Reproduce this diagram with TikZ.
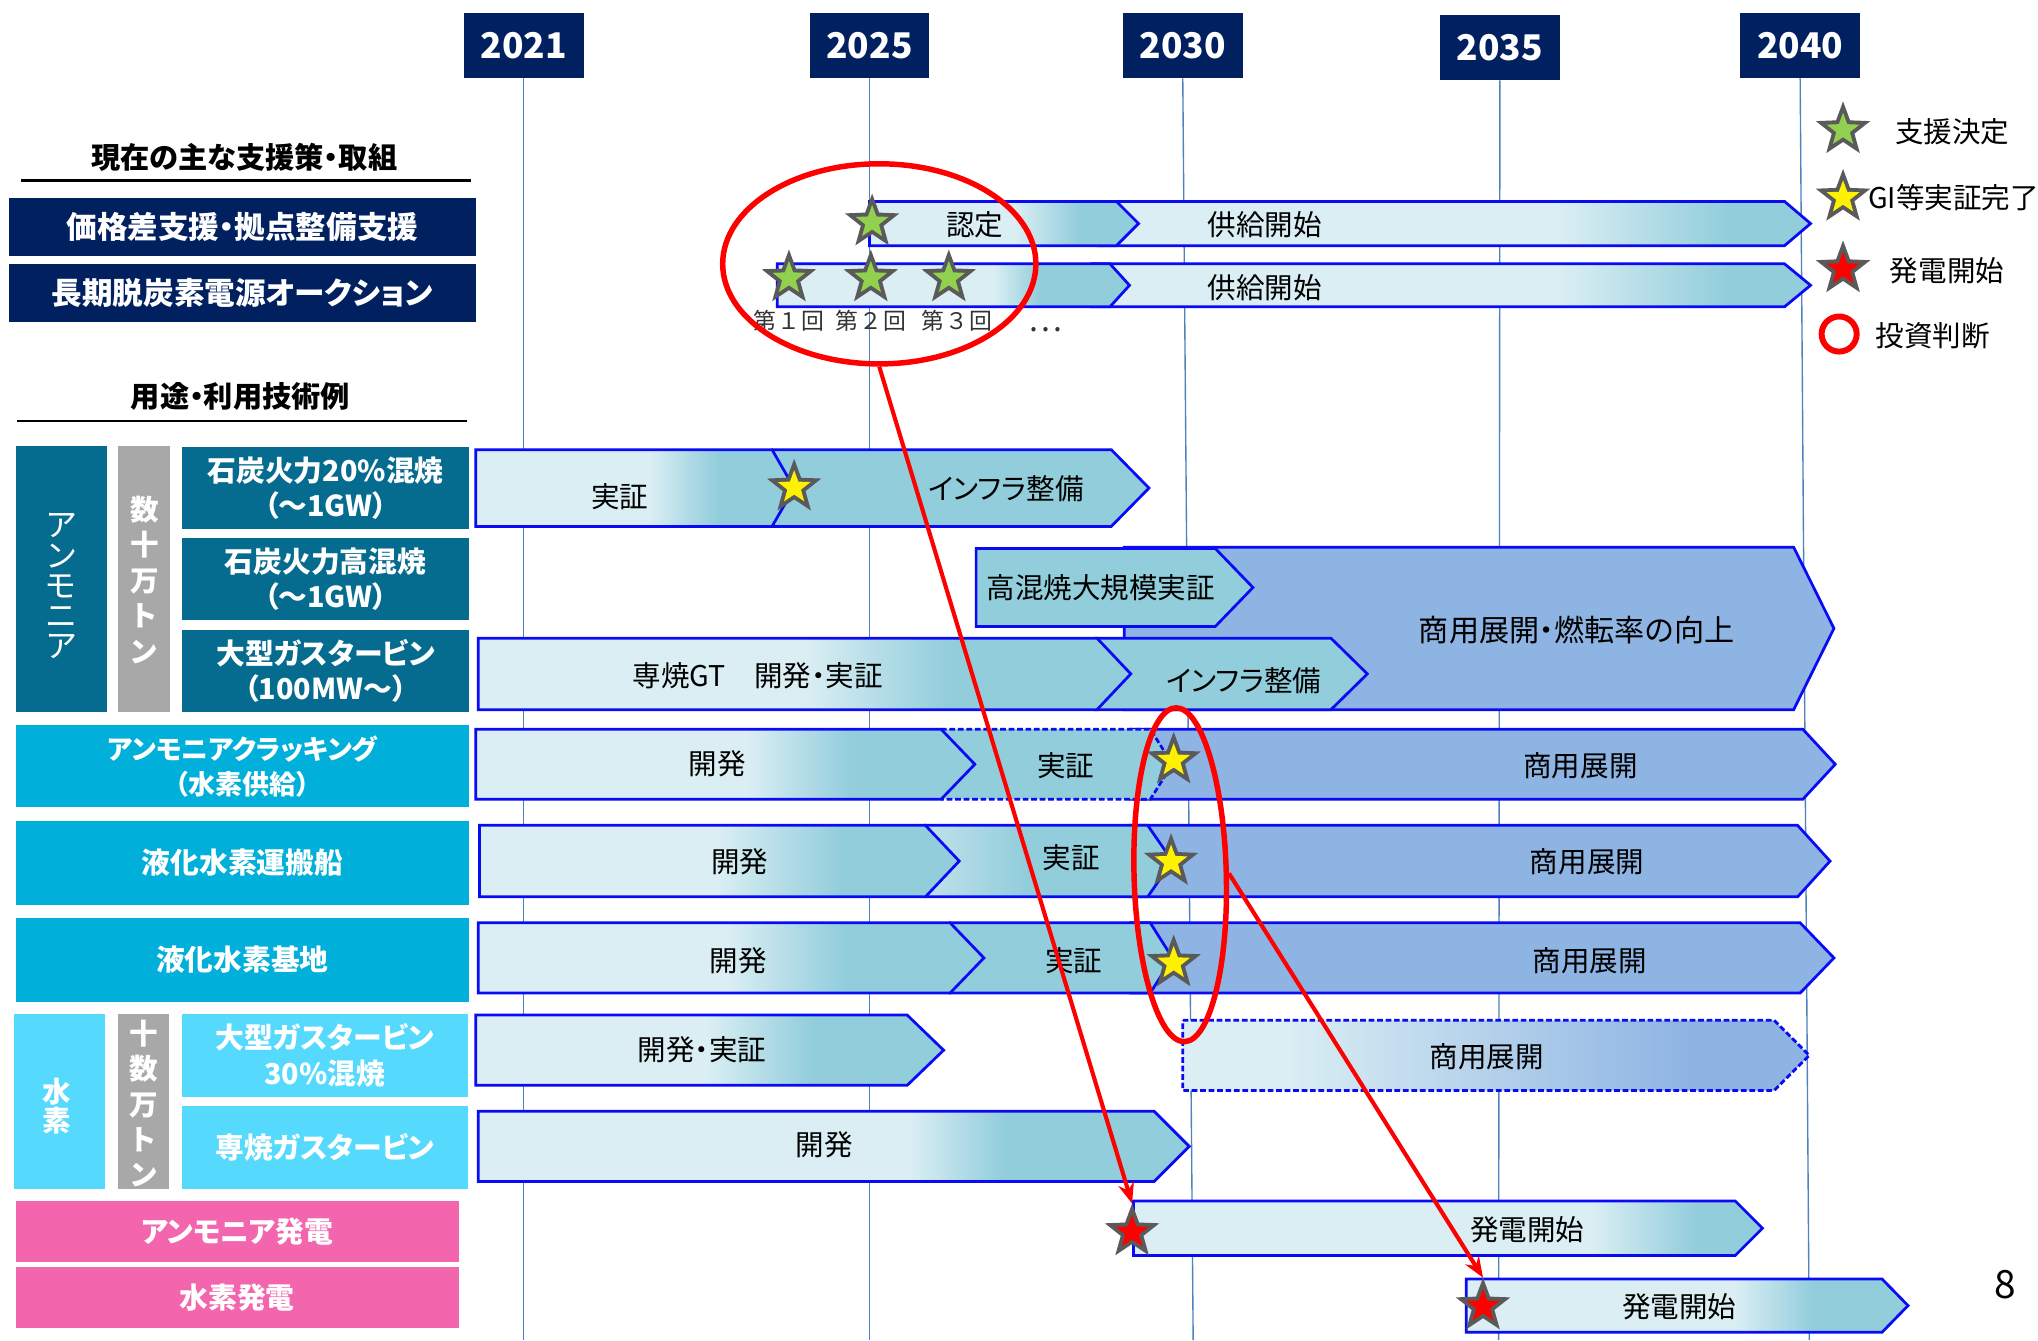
\documentclass[tikz,border=0pt]{standalone}
\usepackage{fontspec}
\setmainfont{Noto Sans CJK JP}[RawFeature=+palt]
\usetikzlibrary{shapes.geometric,arrows.meta}
\definecolor{navy}{HTML}{002060}
\definecolor{tealA}{HTML}{056C8F}
\definecolor{grayB}{HTML}{A9A8A9}
\definecolor{cyanC}{HTML}{00AFDA}
\definecolor{cyanL}{HTML}{55DAFE}
\definecolor{pinkP}{HTML}{F366AD}
\definecolor{barL}{HTML}{DAEEF3}
\definecolor{barM}{HTML}{92CDDC}
\definecolor{barC}{HTML}{8EB4E3}
\definecolor{barB}{HTML}{0A0AF5}
\definecolor{gridL}{HTML}{4F81BD}
\definecolor{starGr}{HTML}{5A5A5A}
\definecolor{starGreen}{HTML}{92D050}
\newcommand\gbar[9]{%
 \begin{scope}
  \clip (#1,#4) -- (#2,#4) -- (#3,{(#4+#5)/2}) -- (#2,#5) -- (#1,#5) -- cycle;
  \fill[#8] (#1-1,#4-1) rectangle (#6+0.5,#5+1);
  \shade[left color=#8,right color=#9] (#6,#4-1) rectangle (#7,#5+1);
  \fill[#9] (#7-0.5,#4-1) rectangle (#3+1,#5+1);
 \end{scope}}
\newcommand\bord[6]{\draw[#6] (#1,#4) -- (#2,#4) -- (#3,{(#4+#5)/2}) -- (#2,#5) -- (#1,#5) -- cycle;}
\newcommand\sbar[6]{\filldraw[barline,fill=#6] (#1,#4) -- (#2,#4) -- (#3,{(#4+#5)/2}) -- (#2,#5) -- (#1,#5) -- cycle;}
\newcommand\mstar[4]{%
 \node[starout] (#1) at (#2,#3) {};
 \node[starin,fill=#4] (#1-in) at (#2,#3) {};}
\begin{document}
\begin{tikzpicture}[x=0.02cm,y=-0.02cm,
  barline/.style={draw=barB,line width=1.2pt,line join=miter},
  gridline/.style={draw=gridL,line width=0.6pt},
  yr/.style={fill=navy,text=white,font=\bfseries\fontsize{15.5}{18}\selectfont,minimum width=1.84cm,minimum height=1.0cm,inner sep=0pt},
  box/.style 2 args={minimum width=#1*0.02cm,minimum height=#2*0.02cm,inner sep=0pt,outer sep=0pt},
  lt/.style={text=white,font=\bfseries\fontsize{12.6}{15.4}\selectfont,align=center},
  vt/.style={text=white,font=\bfseries\fontsize{12.5}{15.5}\selectfont,align=center,inner sep=0pt},
  bt/.style={text=black,font=\fontsize{12.5}{15}\selectfont,inner sep=0pt},
  hd/.style={text=black,font=\bfseries\fontsize{12.8}{15}\selectfont,inner sep=0pt},
  sl/.style={text=black!80,font=\fontsize{10}{12}\selectfont,inner sep=0pt},
  starout/.style={star,star points=5,star point ratio=2.4,fill=starGr,minimum size=0.88cm,inner sep=0pt,outer sep=0pt},
  starin/.style={star,star points=5,star point ratio=2.4,minimum size=0.53cm,inner sep=0pt},
  redl/.style={draw=red,line width=2.4pt},
  redarrow/.style={draw=red,line width=1.8pt,-{Stealth[length=9pt,width=7pt]}}
]
\fill[white] (0,0) rectangle (1568,1031);
\useasboundingbox (0,0) rectangle (1568,1031);

% year headers and grid lines
\node[yr] (y2021) at (403,35) {2021};
\node[yr] (y2025) at (669,35) {2025};
\node[yr] (y2030) at (910,35) {2030};
\node[yr] (y2035) at (1154,36.5) {2035};
\node[yr] (y2040) at (1385,35) {2040};
\coordinate (b2021) at (403,1031);
\coordinate (b2025) at (669,1031);
\coordinate (b2030) at (918,1031);
\coordinate (b2035) at (1153,1031);
\coordinate (b2040) at (1392,1031);
\draw[gridline] (y2021.south) -- (b2021);
\draw[gridline] (y2025.south) -- (b2025);
\draw[gridline] (y2030.south) -- (b2030);
\draw[gridline] (y2035.south) -- (b2035);
\draw[gridline] (y2040.south) -- (b2040);

% left headers
\node[hd] (hdA) at (188,121) {現在の主な支援策・取組};
\coordinate (ulA1) at (16,139); \coordinate (ulA2) at (362,139);
\draw[line width=1.2pt] (ulA1) -- (ulA2);
\node[box={359}{45},fill=navy,lt,font=\bfseries\fontsize{13.4}{15}\selectfont] (pol1) at (186.5,174.5) {価格差支援・拠点整備支援};
\node[box={359}{45},fill=navy,lt,font=\bfseries\fontsize{13.4}{15}\selectfont] (pol2) at (186.5,225.5) {長期脱炭素電源オークション};
\node[hd] (hdB) at (185,305) {用途・利用技術例};
\coordinate (ulB1) at (13,324); \coordinate (ulB2) at (359,324);
\draw[line width=1.2pt] (ulB1) -- (ulB2);

% left category boxes
\node[box={70}{205},fill=tealA] (amm) at (47,445.5) {};
\node[vt,font=\fontsize{14}{13.2}\selectfont] (ammT) at (47,451) {ア\\ン\\モ\\ニ\\ア};
\node[box={40}{205},fill=grayB] (gr1) at (111,445.5) {};
\node[vt] (gr1T) at (111,446) {数\\十\\万\\ト\\ン};
\node[box={221}{63},fill=tealA,lt] (l1) at (250.5,375.5) {石炭火力20\%混焼\\（～1GW）};
\node[box={221}{63},fill=tealA,lt] (l2) at (250.5,445.5) {石炭火力高混焼\\（～1GW）};
\node[box={221}{63},fill=tealA,lt] (l3) at (250.5,516) {大型ガスタービン\\（100MW～）};
\node[box={349}{63},fill=cyanC,lt,font=\bfseries\fontsize{11.8}{15.4}\selectfont] (l4) at (186.5,589.5) {アンモニアクラッキング\\（水素供給）};
\node[box={349}{64},fill=cyanC,lt] (l5) at (186.5,664) {液化水素運搬船};
\node[box={349}{65},fill=cyanC,lt] (l6) at (186.5,738.5) {液化水素基地};
\node[box={70}{135},fill=cyanL] (h2) at (46,847.5) {};
\node[vt,font=\bfseries\fontsize{12.5}{12.5}\selectfont] (h2T) at (44,851) {水\\素};
\node[box={39}{135},fill=grayB] (gr2) at (110.5,847.5) {};
\node[vt] (gr2T) at (110.5,849) {十\\数\\万\\ト\\ン};
\node[box={220}{64},fill=cyanL,lt] (l7) at (250,812) {大型ガスタービン\\30\%混焼};
\node[box={220}{64},fill=cyanL,lt] (l8) at (250,883) {専焼ガスタービン};
\node[box={341}{47},fill=pinkP,lt] (l9) at (182.5,947.5) {アンモニア発電};
\node[box={341}{47},fill=pinkP,lt] (l10) at (182.5,998.5) {水素発電};

% ---- bars ----
% row 1
\gbar{845}{1373}{1393}{155}{189}{1200}{1330}{barL}{barM}\bord{845}{1373}{1393}{155}{189}{barline}
\gbar{669}{859}{876}{155}{189}{781}{830}{barL}{barM}\bord{669}{859}{876}{155}{189}{barline}
% row 2
\gbar{840}{1373}{1393}{203}{236}{1200}{1330}{barL}{barM}\bord{840}{1373}{1393}{203}{236}{barline}
\gbar{598}{854}{869}{203}{236}{765}{800}{barL}{barM}\bord{598}{854}{869}{203}{236}{barline}
% row 3
\sbar{595}{855}{884}{346}{405}{barM}
\gbar{366}{594}{611}{346}{405}{500}{552}{barL}{barM}\bord{366}{594}{611}{346}{405}{barline}
% rows 4-5
\sbar{865}{1380}{1411}{421}{546}{barC}
\sbar{751}{935}{964}{422}{482}{barM}
\sbar{843}{1024}{1052}{491}{546}{barM}
\gbar{368}{844}{870}{491}{546}{620}{730}{barL}{barM}\bord{368}{844}{870}{491}{546}{barline}
% row 6
\sbar{870}{1387}{1412}{561}{615}{barC}
\fill[barM] (724,561) -- (885,561) -- (902,588) -- (885,615) -- (724,615) -- cycle;
\draw[barline,dash pattern=on 2.5pt off 1.2pt] (724,561) -- (885,561) -- (902,588) -- (885,615) -- (724,615);
\gbar{366}{724}{750}{561}{615}{575}{655}{barL}{barM}\bord{366}{724}{750}{561}{615}{barline}
% row 7
\sbar{870}{1383}{1408}{635}{690}{barC}
\gbar{712}{883}{902}{635}{690}{715}{790}{barL!60!barM}{barM}\bord{712}{883}{902}{635}{690}{barline}
\gbar{369}{712}{738}{635}{690}{552}{648}{barL}{barM}\bord{369}{712}{738}{635}{690}{barline}
% row 8
\sbar{870}{1385}{1411}{710}{764}{barC}
\sbar{731}{885}{902}{710}{764}{barM}
\gbar{368}{731}{757}{710}{764}{560}{650}{barL}{barM}\bord{368}{731}{757}{710}{764}{barline}
% row 9
\gbar{366}{698}{726}{781}{835}{545}{625}{barL}{barM}\bord{366}{698}{726}{781}{835}{barline}
\gbar{910}{1365}{1392}{785}{839}{990}{1300}{barL}{barC}\bord{910}{1365}{1392}{785}{839}{barline,dash pattern=on 2.5pt off 1.2pt}
% row 10
\gbar{368}{888}{915}{855}{909}{700}{772}{barL}{barM}\bord{368}{888}{915}{855}{909}{barline}
% row 11
\gbar{872}{1335}{1356}{924}{966}{1225}{1305}{barL}{barM}\bord{872}{1335}{1356}{924}{966}{barline}
% row 12
\gbar{1128}{1448}{1468}{984}{1025}{1335}{1395}{barL}{barM}\bord{1128}{1448}{1468}{984}{1025}{barline}

% bar texts
\node[bt] (t1) at (750,173) {認定};
\node[bt] (t2) at (973,173) {供給開始};
\node[bt] (t3) at (973,221) {供給開始};
\node[bt] (t4) at (477,382) {実証};
\node[bt] (t5) at (774,376) {インフラ整備};
\node[bt] (t6) at (847,452) {高混焼大規模実証};
\node[bt,font=\fontsize{13.2}{15}\selectfont] (t7) at (1213,485) {商用展開・燃転率の向上};
\node[bt] (t8) at (583,520) {専焼GT　開発・実証};
\node[bt] (t9) at (957,524) {インフラ整備};
\node[bt] (t10) at (552,588) {開発};
\node[bt] (t11) at (820,589) {実証};
\node[bt] (t12) at (1216,589) {商用展開};
\node[bt] (t13) at (569,663) {開発};
\node[bt] (t14) at (824,660) {実証};
\node[bt] (t15) at (1221,663) {商用展開};
\node[bt] (t16) at (568,739) {開発};
\node[bt] (t17) at (826,739) {実証};
\node[bt] (t18) at (1223,739) {商用展開};
\node[bt] (t19) at (540,808) {開発・実証};
\node[bt] (t20) at (1144,813) {商用展開};
\node[bt] (t21) at (634,881) {開発};
\node[bt] (t22) at (1175,946) {発電開始};
\node[bt] (t23) at (1292,1005) {発電開始};

% star labels
\node[sl] (r1) at (607,247) {第\,１\,回};
\node[sl] (r2) at (670,247) {第\,２\,回};
\node[sl] (r3) at (736,247) {第\,３\,回};
\node[sl,font=\fontsize{14}{14}\selectfont] (r4) at (804,254) {…};

% stars
\mstar{g0}{671}{171}{starGreen}
\mstar{g1}{607}{214}{starGreen}
\mstar{g2}{670}{214}{starGreen}
\mstar{g3}{730}{214}{starGreen}
\mstar{ys3}{611}{375}{yellow}
\mstar{ys6}{903}{585}{yellow}
\mstar{ys7}{901}{663}{yellow}
\mstar{ys8}{903}{741}{yellow}
\mstar{rs1}{871}{948}{red}
\mstar{rs2}{1141}{1005}{red}

% investment decision ellipses and arrows
\node[ellipse,redl,minimum width=4.82cm,minimum height=3.08cm,inner sep=0pt] (e1) at (676.5,203) {};
\node[ellipse,redl,minimum width=1.42cm,minimum height=5.14cm,inner sep=0pt,rotate=1.5] (e2) at (908,673) {};
\draw[redarrow] (e1.south) -- (rs1.north);
\draw[redarrow] (e2.east) -- (rs2.north);

% legend
\mstar{lg}{1418}{100}{starGreen}
\mstar{ly}{1418}{152}{yellow}
\mstar{lr}{1418}{207}{red}
\node[circle,draw=red,line width=2.6pt,minimum size=0.54cm,inner sep=0pt] (lc) at (1415,257) {};
\node[bt] (lgT) at (1502,101) {支援決定};
\node[bt] (lyT) at (1503,152) {GI等実証完了};
\node[bt] (lrT) at (1498,208) {発電開始};
\node[bt] (lcT) at (1487,258) {投資判断};

% page number
\node[text=black,font=\fontsize{17}{20}\selectfont,inner sep=0pt] (pg) at (1543,988) {8};
\end{tikzpicture}
\end{document}
